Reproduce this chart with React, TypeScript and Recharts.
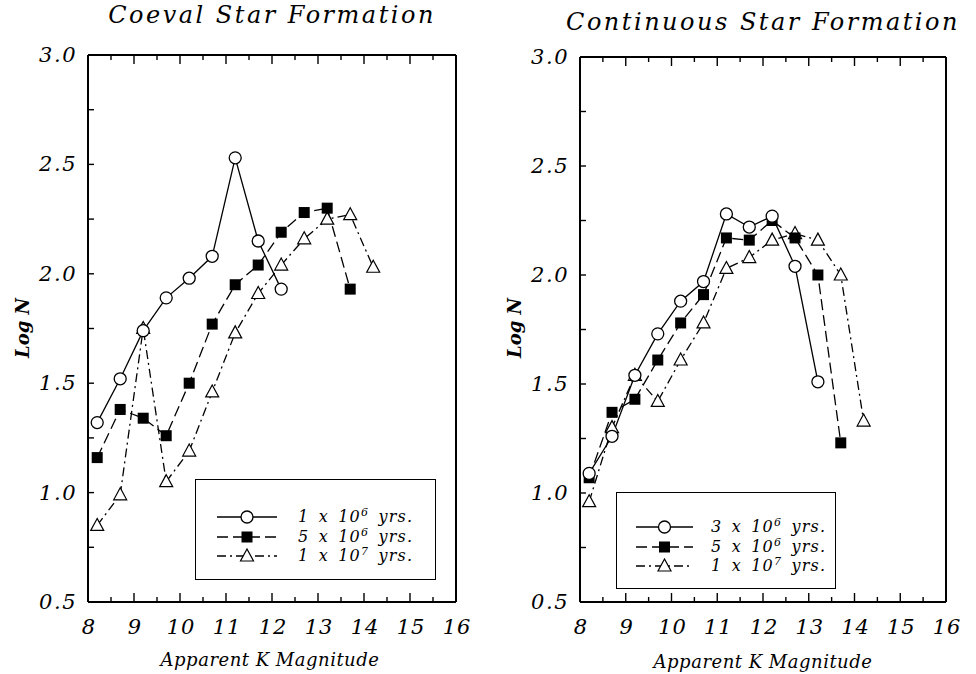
import React from "react";
import { LineChart, Line, XAxis, YAxis, Legend } from "recharts";

// bin centres (apparent K magnitude)
const MAGS = [8.2, 8.7, 9.2, 9.7, 10.2, 10.7, 11.2, 11.7, 12.2, 12.7, 13.2, 13.7, 14.2];

// Coeval star formation, log N per bin
const COEVAL_1E6 = [1.32, 1.52, 1.74, 1.89, 1.98, 2.08, 2.53, 2.15, 1.93];
const COEVAL_5E6 = [1.16, 1.38, 1.34, 1.26, 1.5, 1.77, 1.95, 2.04, 2.19, 2.28, 2.3, 1.93];
const COEVAL_1E7 = [0.85, 0.99, 1.75, 1.05, 1.19, 1.46, 1.73, 1.91, 2.04, 2.16, 2.25, 2.27, 2.03];

// Continuous star formation, log N per bin
const CONT_3E6 = [1.09, 1.26, 1.54, 1.73, 1.88, 1.97, 2.28, 2.22, 2.27, 2.04, 1.51];
const CONT_5E6 = [1.07, 1.37, 1.43, 1.61, 1.78, 1.91, 2.17, 2.16, 2.25, 2.17, 2.0, 1.23];
const CONT_1E7 = [0.96, 1.3, 1.54, 1.42, 1.61, 1.78, 2.03, 2.08, 2.16, 2.19, 2.16, 2.0, 1.33];

const X_TICKS = [8, 8.5, 9, 9.5, 10, 10.5, 11, 11.5, 12, 12.5, 13, 13.5, 14, 14.5, 15, 15.5, 16];
const Y_TICKS = [0.5, 0.75, 1, 1.25, 1.5, 1.75, 2, 2.25, 2.5, 2.75, 3];

const FONT = "'DejaVu Serif', serif";
const DASH_5E6 = "11 5";
const DASH_1E7 = "9 4 2 4";

function buildRows(a: number[], b: number[], c: number[]) {
  return MAGS.map((mag, i) => ({ mag, a: a[i], b: b[i], c: c[i] }));
}

const isMajorX = (v: number) => Number.isInteger(v);
const isMajorY = (v: number) => Math.abs(v * 2 - Math.round(v * 2)) < 1e-6;

// inward ticks on all four sides of the frame
const BottomTick = ({ x, y, payload }: any) => {
  const v = payload.value;
  const major = isMajorX(v);
  return (
    <g>
      <line x1={x} y1={y} x2={x} y2={y - (major ? 9 : 5)} stroke="#000" strokeWidth={1.4} />
      {major && (
        <text
          x={x + 1}
          y={y + 32}
          textAnchor="middle"
          fontFamily={FONT}
          fontStyle="italic"
          fontSize={21}
          letterSpacing={1}
          fill="#000"
        >
          {v}
        </text>
      )}
    </g>
  );
};

const TopTick = ({ x, y, payload }: any) => (
  <line x1={x} y1={y} x2={x} y2={y + (isMajorX(payload.value) ? 9 : 5)} stroke="#000" strokeWidth={1.4} />
);

const LeftTick = ({ x, y, payload }: any) => {
  const v = payload.value;
  return (
    <g>
      <line x1={x} y1={y} x2={x + 6} y2={y} stroke="#000" strokeWidth={1.4} />
      {isMajorY(v) && (
        <text
          x={x - 11}
          y={y + 7}
          textAnchor="end"
          fontFamily={FONT}
          fontStyle="italic"
          fontSize={21}
          letterSpacing={1.5}
          fill="#000"
        >
          {v.toFixed(1)}
        </text>
      )}
    </g>
  );
};

const RightTick = ({ x, y }: any) => <line x1={x} y1={y} x2={x - 6} y2={y} stroke="#000" strokeWidth={1.4} />;

const CircleDot = (p: any) =>
  p.cy == null ? (
    <g key={p.index} />
  ) : (
    <circle key={p.index} cx={p.cx} cy={p.cy} r={6} fill="#fff" stroke="#000" strokeWidth={1.3} />
  );

const SquareDot = (p: any) =>
  p.cy == null ? <g key={p.index} /> : <rect key={p.index} x={p.cx - 5.5} y={p.cy - 5.5} width={11} height={11} fill="#000" />;

const TriangleDot = (p: any) =>
  p.cy == null ? (
    <g key={p.index} />
  ) : (
    <polygon
      key={p.index}
      points={`${p.cx},${p.cy - 7} ${p.cx - 6.5},${p.cy + 5} ${p.cx + 6.5},${p.cy + 5}`}
      fill="#fff"
      stroke="#000"
      strokeWidth={1.2}
    />
  );

const Exp = ({ m, e }: { m: string; e: string }) => (
  <span>
    {m} x 10<sup style={{ fontSize: 11, verticalAlign: 6, lineHeight: 0 }}>{e}</sup> yrs.
  </span>
);

type Entry = { label: React.ReactNode; dash?: string; marker: "circle" | "square" | "triangle" };

function LegendBox({ entries, width, height, rowTop, rowGap, sampleLeft, sampleWidth, textLeft }: any) {
  return (
    <div
      style={{
        position: "relative",
        width,
        height,
        border: "1.5px solid #000",
        background: "#fff",
        boxSizing: "border-box",
      }}
    >
      {entries.map((en: Entry, i: number) => {
        const cy = rowTop + i * rowGap;
        const mid = sampleWidth / 2;
        return (
          <div key={i}>
            <svg style={{ position: "absolute", left: sampleLeft, top: cy - 8 }} width={sampleWidth} height={16}>
              <line x1={0} y1={8} x2={sampleWidth} y2={8} stroke="#000" strokeWidth={1.3} strokeDasharray={en.dash} />
              {en.marker === "circle" && <CircleDot cx={mid} cy={8} index={0} />}
              {en.marker === "square" && <SquareDot cx={mid} cy={8} index={0} />}
              {en.marker === "triangle" && <TriangleDot cx={mid} cy={8} index={0} />}
            </svg>
            <div
              style={{
                position: "absolute",
                left: textLeft,
                top: cy - 10,
                fontFamily: FONT,
                fontStyle: "italic",
                fontSize: 16,
                letterSpacing: 1.2,
                wordSpacing: 3,
                lineHeight: "20px",
                whiteSpace: "nowrap",
              }}
            >
              {en.label}
            </div>
          </div>
        );
      })}
    </div>
  );
}

function Panel({ rows, top, legend, legendPos, entries }: any) {
  return (
    <LineChart
      width={legendPos.chartWidth}
      height={674}
      data={rows}
      margin={{ top: top - 10, left: legendPos.marginLeft, right: legendPos.marginRight, bottom: 42 }}
    >
      <XAxis
        xAxisId="b"
        dataKey="mag"
        type="number"
        domain={[8, 16]}
        ticks={X_TICKS}
        interval={0}
        height={30}
        tickSize={0}
        tickMargin={0}
        tickLine={false}
        tick={<BottomTick />}
        axisLine={{ stroke: "#000", strokeWidth: 2 }}
      />
      <XAxis
        xAxisId="t"
        orientation="top"
        dataKey="mag"
        type="number"
        domain={[8, 16]}
        ticks={X_TICKS}
        interval={0}
        height={10}
        tickSize={0}
        tickMargin={0}
        tickLine={false}
        tick={<TopTick />}
        axisLine={{ stroke: "#000", strokeWidth: 2 }}
      />
      <YAxis
        yAxisId="l"
        type="number"
        domain={[0.5, 3]}
        ticks={Y_TICKS}
        interval={0}
        width={40}
        tickSize={0}
        tickMargin={0}
        tickLine={false}
        tick={<LeftTick />}
        axisLine={{ stroke: "#000", strokeWidth: 2 }}
      />
      <YAxis
        yAxisId="r"
        orientation="right"
        type="number"
        domain={[0.5, 3]}
        ticks={Y_TICKS}
        interval={0}
        width={10}
        tickSize={0}
        tickMargin={0}
        tickLine={false}
        tick={<RightTick />}
        axisLine={{ stroke: "#000", strokeWidth: 2 }}
      />
      <Line
        xAxisId="b"
        yAxisId="l"
        dataKey="c"
        stroke="#000"
        strokeWidth={1.3}
        strokeDasharray={DASH_1E7}
        dot={TriangleDot}
        isAnimationActive={false}
      />
      <Line
        xAxisId="b"
        yAxisId="l"
        dataKey="b"
        stroke="#000"
        strokeWidth={1.3}
        strokeDasharray={DASH_5E6}
        dot={SquareDot}
        isAnimationActive={false}
      />
      <Line
        xAxisId="b"
        yAxisId="l"
        dataKey="a"
        stroke="#000"
        strokeWidth={1.3}
        dot={CircleDot}
        isAnimationActive={false}
      />
      <Legend
        layout="vertical"
        align="center"
        verticalAlign="middle"
        wrapperStyle={{ left: legend.left, top: legend.top, width: legend.width, height: legend.height }}
        content={() => <LegendBox entries={entries} {...legend} />}
      />
    </LineChart>
  );
}

const textStyle: React.CSSProperties = {
  position: "absolute",
  fontFamily: FONT,
  fontStyle: "italic",
  whiteSpace: "nowrap",
  color: "#000",
};

export default function App() {
  const coevalRows = buildRows(COEVAL_1E6, COEVAL_5E6, COEVAL_1E7);
  const contRows = buildRows(CONT_3E6, CONT_5E6, CONT_1E7);

  const coevalEntries: Entry[] = [
    { label: <Exp m="1" e="6" />, marker: "circle" },
    { label: <Exp m="5" e="6" />, marker: "square", dash: DASH_5E6 },
    { label: <Exp m="1" e="7" />, marker: "triangle", dash: DASH_1E7 },
  ];
  const contEntries: Entry[] = [
    { label: <Exp m="3" e="6" />, marker: "circle" },
    { label: <Exp m="5" e="6" />, marker: "square", dash: DASH_5E6 },
    { label: <Exp m="1" e="7" />, marker: "triangle", dash: DASH_1E7 },
  ];

  return (
    <div style={{ position: "absolute", left: 0, top: 0, width: 976, height: 674, background: "#fff", overflow: "hidden" }}>
      <div style={{ position: "absolute", left: 0, top: 0 }}>
        <Panel
          rows={coevalRows}
          top={55}
          entries={coevalEntries}
          legendPos={{ chartWidth: 480, marginLeft: 48, marginRight: 14 }}
          legend={{ left: 195, top: 479, width: 241, height: 101, rowTop: 37, rowGap: 19.5, sampleLeft: 21, sampleWidth: 60, textLeft: 102 }}
        />
      </div>
      <div style={{ position: "absolute", left: 490, top: 0 }}>
        <Panel
          rows={contRows}
          top={57}
          entries={contEntries}
          legendPos={{ chartWidth: 486, marginLeft: 50, marginRight: 20 }}
          legend={{ left: 126, top: 492, width: 220, height: 97, rowTop: 34, rowGap: 19.5, sampleLeft: 19, sampleWidth: 57, textLeft: 94 }}
        />
      </div>

      <div style={{ ...textStyle, left: 272, top: 1, fontSize: 24, letterSpacing: 2.5, transform: "translateX(-50%)" }}>
        Coeval Star Formation
      </div>
      <div style={{ ...textStyle, left: 763, top: 8, fontSize: 24, letterSpacing: 2.5, transform: "translateX(-50%)" }}>
        Continuous Star Formation
      </div>

      <div style={{ ...textStyle, left: 270, top: 649, fontSize: 18, letterSpacing: 0.5, transform: "translateX(-50%)" }}>
        Apparent K Magnitude
      </div>
      <div style={{ ...textStyle, left: 763, top: 651, fontSize: 18, letterSpacing: 0.5, transform: "translateX(-50%)" }}>
        Apparent K Magnitude
      </div>

      <div style={{ ...textStyle, left: 22, top: 328, fontSize: 18, fontWeight: "bold", transform: "translate(-50%, -50%) rotate(-90deg)" }}>
        Log N
      </div>
      <div style={{ ...textStyle, left: 514, top: 328, fontSize: 18, fontWeight: "bold", transform: "translate(-50%, -50%) rotate(-90deg)" }}>
        Log N
      </div>
    </div>
  );
}
